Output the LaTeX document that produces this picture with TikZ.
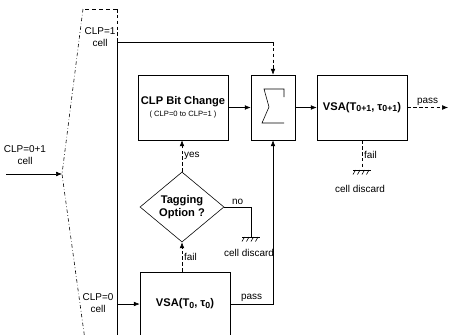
\documentclass[tikz,border=0pt]{standalone}
\usepackage{fontspec}
\setmainfont{Liberation Sans}
\usetikzlibrary{arrows.meta,shapes.geometric}
\newcommand{\lo}[1]{\raisebox{-0.25ex}{\fontsize{7.5}{8}\selectfont #1}}
\tikzset{earth/.pic={
  \draw[-] (-9,0) -- (9,0);
  \foreach \t in {-6.5,-2,2.5,7} \draw[-] (\t,0) -- ++(-2.5,4.5);
}}

\begin{document}
\begin{tikzpicture}[->, >={Latex[length=5pt,width=4pt]}, x=0.03cm, y=-0.03cm, line width=0.5pt,
  blk/.style={draw, rectangle, inner sep=0pt, align=center, font=\bfseries\fontsize{9.5}{11.5}\selectfont},
  lbl/.style={align=center, inner sep=1.5pt, font=\fontsize{8.5}{10.5}\selectfont},
  dsh/.style={densely dashed}]
%
\clip (0,0) rectangle (450,334);
%
\coordinate (inS) at (6,174);
\coordinate (apex) at (62,174);
\coordinate (d1) at (117,42);
\coordinate (d0) at (117,304);
\coordinate (out) at (448,107.5);
\coordinate (g1) at (362,170);
\coordinate (nb) at (251,207);
\coordinate (g2) at (251,237);
%
\node (in) [lbl] at (25,155) {CLP=0+1\\cell};
\node (c1) [lbl] at (100,37) {CLP=1\\cell};
\node (c0) [lbl] at (98,303) {CLP=0\\cell};
\node (bit) [blk, minimum width=2.7cm, minimum height=1.95cm] at (183,107.5)
  {CLP Bit Change\\[-1pt]{\mdseries\fontsize{6.5}{7}\selectfont ( CLP=0 to CLP=1 )}};
\node (sum) [blk, minimum width=1.32cm, minimum height=1.95cm] at (273,107.5) {};
\node (vsa1) [blk, minimum width=2.7cm, minimum height=1.95cm] at (362,107.5)
  {VSA(T\lo{0+1}, τ\lo{0+1})};
\node (tag) [blk, diamond, minimum width=2.52cm, minimum height=2.1cm] at (182,207)
  {Tagging\\Option ?};
\node (vsa0) [blk, minimum width=2.7cm, minimum height=1.92cm] at (185,304)
  {VSA(T\lo{0}, τ\lo{0})};
\node (cd1) [lbl] at (360,189) {cell discard};
\node (cd2) [lbl] at (249,253) {cell discard};
%
% splitter
\draw[-, dashed] (117,9) -- (83,9);
\draw[-, dash dot] (83,9) -- (apex) -- (85,340);
\draw[-, dsh] (117,9) -- (d1);
\draw[-] (d1) -- (117,340);
% sigma
\draw[-, shift={(sum.center)}] (11,-10.5) -- (11,-18.5) -- (-9,-18.5) -- (-4,-0.5)
  -- (-11,15.5) -- (11,15.5);
%
\path (inS) edge (apex);
\draw[-] (d1) -- (d1 -| sum.north);
\draw[dsh] (d1 -| sum.north) -- (sum.north);
\path (d0) edge (vsa0);
\path (bit) edge (sum);
\path (sum) edge (vsa1);
\path[dsh] (vsa1) edge node[lbl, above] {pass} (out);
\draw[-, dsh] (vsa1) -- node[lbl, right] {fail} (g1);
\pic at (g1) {earth};
\draw[dsh] (tag.north) -- node[lbl, right] {yes} (tag.north |- bit.south);
\draw[-] (tag) -- node[lbl, above] {no} (nb) -- (g2);
\pic at (g2) {earth};
\draw[dsh] (vsa0.north -| tag.south) -- node[lbl, right] {fail} (tag.south);
\draw (vsa0.east) -| node[lbl, above, pos=0.25] {pass} (sum.south);
\end{tikzpicture}
\end{document}
